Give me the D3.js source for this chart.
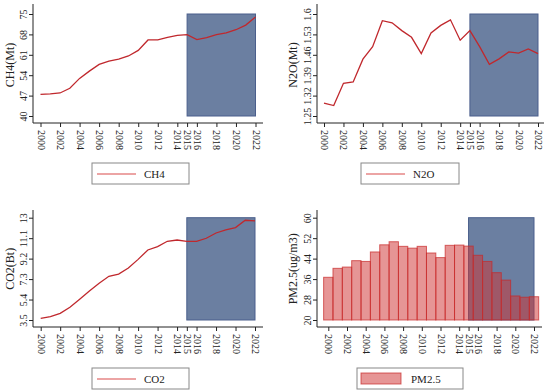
<!DOCTYPE html>
<html>
<head>
<meta charset="utf-8">
<script src="https://cdn.jsdelivr.net/npm/d3@7"></script>
<style>
  body { margin: 0; background: #fff; }
  svg { display: block; font-family: "Liberation Serif", "DejaVu Serif", serif; }
</style>
</head>
<body>
<div id="chart"></div>
<script>
// Years and tick labels
const years = [2000, 2001, 2002, 2003, 2004, 2005, 2006, 2007, 2008, 2009, 2010, 2011,
               2012, 2013, 2014, 2015, 2016, 2017, 2018, 2019, 2020, 2021, 2022];
const yearTicks = [2000, 2002, 2004, 2006, 2008, 2010, 2012, 2014, 2015, 2016, 2018, 2020, 2022];

// Series values
const ch4 = [47.4, 47.6, 47.9, 49.5, 52.9, 55.4, 57.7, 58.8, 59.5, 60.6, 62.5, 66.1,
             66.1, 67.0, 67.7, 67.9, 66.2, 66.9, 67.9, 68.5, 69.6, 71.2, 74.0];
const n2o = [1.294, 1.286, 1.362, 1.367, 1.445, 1.488, 1.577, 1.570, 1.543, 1.520, 1.464, 1.535,
             1.561, 1.580, 1.510, 1.543, 1.488, 1.427, 1.446, 1.470, 1.466, 1.480, 1.464];
const co2 = [3.65, 3.81, 4.12, 4.68, 5.42, 6.19, 6.91, 7.56, 7.77, 8.33, 9.13, 10.0,
             10.31, 10.81, 10.93, 10.81, 10.81, 11.09, 11.58, 11.86, 12.08, 12.76, 12.70];
const pm25 = [36.7, 40.2, 40.7, 43.2, 42.9, 46.6, 49.4, 50.6, 48.8, 48.1, 48.8, 46.2,
              44.4, 49.2, 49.3, 48.9, 45.3, 42.9, 38.5, 35.6, 29.4, 28.9, 29.1];

// Y tick labels
const ch4Ticks = [40, 47, 54, 61, 68, 75];
const n2oTicks = [1.25, 1.32, 1.39, 1.46, 1.53, 1.6];
const co2Ticks = [3.5, 5.4, 7.3, 9.2, 11.1, 13];
const pmTicks = [20, 28, 36, 44, 52, 60];

const forecastStart = 2015;

const width = 550, height = 391;
const lineColor = "#c0282d";
const shadeFill = "#6b7fa1";
const shadeStroke = "#4b5f8c";

const svg = d3.select("#chart").append("svg")
  .attr("width", width)
  .attr("height", height);

svg.append("rect").attr("width", width).attr("height", height).attr("fill", "#fff");

const drawPanel = (cfg) => {
  const g = svg.append("g");

  const xScale = d3.scaleLinear()
    .domain([2000, 2022])
    .range([cfg.x0, cfg.x1]);

  const yScale = d3.scaleLinear()
    .domain([cfg.ticks[0], cfg.ticks[cfg.ticks.length - 1]])
    .range([cfg.yBot, cfg.yTop]);

  // forecast shading
  g.append("rect")
    .attr("x", xScale(forecastStart))
    .attr("y", yScale(cfg.ticks[cfg.ticks.length - 1]))
    .attr("width", xScale(2022) - xScale(forecastStart))
    .attr("height", yScale(cfg.ticks[0]) - yScale(cfg.ticks[cfg.ticks.length - 1]))
    .attr("fill", shadeFill)
    .attr("stroke", shadeStroke)
    .attr("stroke-width", 1);

  if (cfg.bars) {
    const step = xScale(2001) - xScale(2000);
    g.selectAll(".bar")
      .data(years.map((y, i) => ({ year: y, v: cfg.values[i] })))
      .join("rect")
      .attr("class", "bar")
      .attr("x", d => xScale(d.year) - step / 2)
      .attr("y", d => yScale(d.v))
      .attr("width", step)
      .attr("height", d => yScale(cfg.ticks[0]) - yScale(d.v))
      .attr("fill", "rgba(208, 52, 52, 0.52)")
      .attr("stroke", "rgba(200, 40, 40, 0.7)")
      .attr("stroke-width", 1);
  } else {
    const line = d3.line()
      .x((d, i) => xScale(years[i]))
      .y(d => yScale(d));
    g.append("path")
      .attr("d", line(cfg.values))
      .attr("fill", "none")
      .attr("stroke", lineColor)
      .attr("stroke-width", 1.3);
  }

  // axis lines
  g.append("line")
    .attr("x1", cfg.axisX).attr("x2", cfg.axisX)
    .attr("y1", cfg.plotTop).attr("y2", cfg.axisY)
    .attr("stroke", "#222").attr("stroke-width", 1);
  g.append("line")
    .attr("x1", cfg.axisX).attr("x2", cfg.plotRight)
    .attr("y1", cfg.axisY).attr("y2", cfg.axisY)
    .attr("stroke", "#222").attr("stroke-width", 1);

  // X axis
  const bottomAxis = d3.axisBottom(xScale)
    .tickValues(yearTicks)
    .tickFormat(d3.format("d"))
    .tickSize(4)
    .tickSizeOuter(0);
  const xg = g.append("g")
    .attr("transform", `translate(0, ${cfg.axisY})`)
    .call(bottomAxis);
  xg.select(".domain").remove();
  xg.selectAll("line").attr("stroke", "#222");
  xg.selectAll("text")
    .attr("x", 7)
    .attr("y", 0)
    .attr("dy", "0.35em")
    .attr("transform", "rotate(90)")
    .style("text-anchor", "start")
    .style("font-family", "Liberation Serif")
    .style("font-size", "10px")
    .attr("fill", "#222");

  // Y axis
  const leftAxis = d3.axisLeft(yScale)
    .tickValues(cfg.ticks)
    .tickFormat(d => String(d))
    .tickSize(4)
    .tickSizeOuter(0);
  const yg = g.append("g")
    .attr("transform", `translate(${cfg.axisX}, 0)`)
    .call(leftAxis);
  yg.select(".domain").remove();
  yg.selectAll("line").attr("stroke", "#222");
  yg.selectAll("text")
    .attr("x", 0)
    .attr("y", -6)
    .attr("dy", 0)
    .attr("transform", "rotate(-90)")
    .style("text-anchor", "middle")
    .style("font-family", "Liberation Serif")
    .style("font-size", "10px")
    .attr("fill", "#222");

  // Y title
  g.append("text")
    .text(cfg.title)
    .attr("transform", `translate(${cfg.titleX}, ${(cfg.yTop + cfg.yBot) / 2}) rotate(-90)`)
    .attr("text-anchor", "middle")
    .style("font-size", "12px")
    .attr("fill", "#222");

  // Legend
  const lg = g.append("g").attr("transform", `translate(${cfg.legX}, ${cfg.legY})`);
  lg.append("rect")
    .attr("x", 0).attr("y", 0)
    .attr("width", cfg.legW).attr("height", 21)
    .attr("fill", "#fff")
    .attr("stroke", "#888")
    .attr("stroke-width", 1);
  if (cfg.bars) {
    lg.append("rect")
      .attr("x", 4).attr("y", 5)
      .attr("width", 40).attr("height", 11)
      .attr("fill", "rgba(208, 52, 52, 0.52)")
      .attr("stroke", "rgba(200, 40, 40, 0.7)");
    lg.append("text")
      .attr("x", 54).attr("y", 14.5)
      .text(cfg.legend)
      .style("font-size", "11px")
      .attr("fill", "#222");
  } else {
    lg.append("line")
      .attr("x1", 5).attr("x2", 44)
      .attr("y1", 11).attr("y2", 11)
      .attr("stroke", "#d94a4a")
      .attr("stroke-width", 1.2);
    lg.append("text")
      .attr("x", 52).attr("y", 14.5)
      .text(cfg.legend)
      .style("font-size", "11px")
      .attr("fill", "#222");
  }
};

drawPanel({
  values: ch4, ticks: ch4Ticks, title: "CH4(Mt)", legend: "CH4",
  x0: 40.5, x1: 255.5, yTop: 14, yBot: 116, axisX: 33, axisY: 123,
  plotTop: 4, plotRight: 263, titleX: 14,
  legX: 92, legY: 163, legW: 97
});

drawPanel({
  values: n2o, ticks: n2oTicks, title: "N2O(Mt)", legend: "N2O",
  x0: 324, x1: 538, yTop: 14, yBot: 116, axisX: 317, axisY: 123,
  plotTop: 4, plotRight: 544, titleX: 297,
  legX: 361, legY: 163, legW: 98
});

drawPanel({
  values: co2, ticks: co2Ticks, title: "CO2(Bt)", legend: "CO2",
  x0: 40.7, x1: 255, yTop: 217.7, yBot: 320, axisX: 33, axisY: 327,
  plotTop: 210, plotRight: 263, titleX: 14,
  legX: 92, legY: 368, legW: 97
});

drawPanel({
  values: pm25, ticks: pmTicks, title: "PM2.5(ug/m3)", legend: "PM2.5", bars: true,
  x0: 328.3, x1: 534, yTop: 217.7, yBot: 320, axisX: 317, axisY: 327,
  plotTop: 210, plotRight: 542, titleX: 297,
  legX: 357, legY: 368, legW: 106
});
</script>
</body>
</html>
